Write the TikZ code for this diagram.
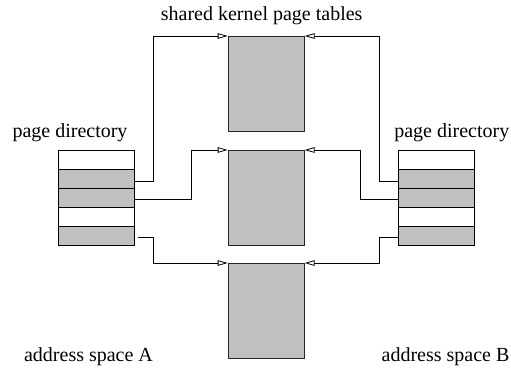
\documentclass[tikz,border=0pt]{standalone}
\usepackage{fontspec}
\setmainfont{Liberation Serif}
\usetikzlibrary{arrows.meta}
\definecolor{boxgray}{RGB}{192,192,192}
\begin{document}
\begin{tikzpicture}[x=1pt,y=-1pt,
  every node/.style={font=\fontsize{20}{24}\selectfont},
  dirrow/.style={draw=black, line width=0.9pt, minimum width=75.5pt, minimum height=19pt, inner sep=0pt, anchor=north west},
  grayrow/.style={dirrow, fill=boxgray},
  kbox/.style={draw=black!85, line width=0.9pt, fill=boxgray, minimum width=76pt, minimum height=95pt, inner sep=0pt, anchor=north west},
  conn/.style={draw=black, line width=0.8pt, -{Triangle[open, length=10pt, width=5.5pt]}},
  label/.style={anchor=base, inner sep=0pt}]
\useasboundingbox (0,0) rectangle (511,367);
% kernel page tables
\node[kbox] (K1) at (227.7,36) {};
\node[kbox] (K2) at (227.7,150) {};
\node[kbox] (K3) at (227.7,263) {};
% left page directory
\node[dirrow]  (La1) at (58,150) {};
\node[grayrow] (La2) at (58,169) {};
\node[grayrow] (La3) at (58,188) {};
\node[dirrow]  (La4) at (58,207) {};
\node[grayrow] (La5) at (58,226) {};
% right page directory
\node[dirrow]  (Rb1) at (398.3,150) {};
\node[grayrow] (Rb2) at (398.3,169) {};
\node[grayrow] (Rb3) at (398.3,188) {};
\node[dirrow]  (Rb4) at (398.3,207) {};
\node[grayrow] (Rb5) at (398.3,226) {};
% connectors
\draw[conn] ([yshift=-2pt]La2.east) -- ++(19,0) |- (K1.north west);
\draw[conn] ([yshift=-1.5pt]La3.east) -- ++(57,0) |- (K2.north west);
\draw[conn] ([xshift=4pt,yshift=-1.8pt]La5.east) -- ++(15,0) |- (K3.north west);
\draw[conn] ([yshift=-2pt]Rb2.west) -- ++(-19,0) |- (K1.north east);
\draw[conn] ([yshift=-1.5pt]Rb3.west) -- ++(-38,0) |- (K2.north east);
\draw[conn] ([yshift=-1.8pt]Rb5.west) -- ++(-19,0) |- (K3.north east);
% labels
\node[label] (tK) at (261.7,20.5) {shared kernel page tables};
\node[label] (tLa) at (70,137) {page directory};
\node[label] (tRb) at (451.8,137) {page directory};
\node[label] (tA) at (88.5,361) {address space A};
\node[label] (tB) at (445.5,361) {address space B};
\end{tikzpicture}
\end{document}
